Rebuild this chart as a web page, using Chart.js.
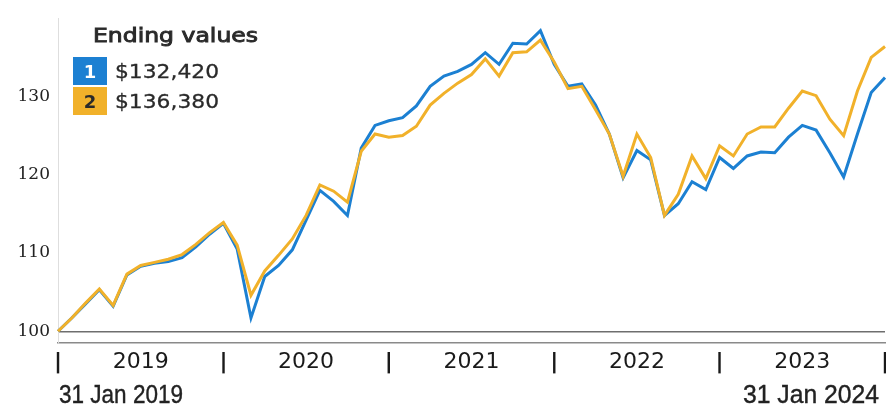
<!DOCTYPE html>
<html>
<head>
<meta charset="utf-8">
<script src="https://cdn.jsdelivr.net/npm/chart.js@4.4.1/dist/chart.umd.min.js"></script>
<style>
  html, body { margin: 0; padding: 0; background: #fff; }
  #wrap { width: 886px; height: 407px; position: relative; }
</style>
</head>
<body>
<div id="wrap"><canvas id="growthChart"></canvas></div>
<script>
// month-end points, 31 Jan 2019 .. 31 Jan 2024
const monthNames = ['Jan','Feb','Mar','Apr','May','Jun','Jul','Aug','Sep','Oct','Nov','Dec'];
const months = [];
for (let y = 2019; y <= 2024; y++) {
  for (let m = 0; m < 12; m++) {
    if (y === 2024 && m > 0) break;
    months.push(monthNames[m] + ' ' + y);
  }
}

const yearLabels = ['2019', '2020', '2021', '2022', '2023'];
const yTicks = [100, 110, 120, 130];
const endLabels = ['31 Jan 2019', '31 Jan 2024'];
const endingValues = ['$132,420', '$136,380'];

const fund1 = [100, 101.7, 103.5, 105.3, 103.2, 107.2, 108.3, 108.7, 108.9, 109.4, 110.8, 112.4,
  113.8, 110.5, 101.7, 107.0, 108.4, 110.4, 114.2, 118.0, 116.6, 114.8, 123.4, 126.3,
  126.9, 127.3, 128.8, 131.3, 132.6, 133.2, 134.1, 135.6, 134.1, 136.8, 136.7, 138.4,
  134.1, 131.3, 131.6, 128.9, 125.2, 119.6, 123.1, 121.9, 114.8, 116.3, 119.1, 118.1,
  122.2, 120.8, 122.4, 122.9, 122.8, 124.8, 126.3, 125.7, 122.8, 119.7, 125.2, 130.5, 132.42];

const fund2 = [100, 101.7, 103.6, 105.4, 103.3, 107.3, 108.4, 108.8, 109.2, 109.8, 111.1, 112.6,
  113.9, 111.0, 104.6, 107.7, 109.7, 111.8, 114.8, 118.7, 117.9, 116.5, 123.0, 125.2,
  124.8, 125.0, 126.2, 128.9, 130.4, 131.7, 132.8, 134.8, 132.6, 135.6, 135.7, 137.2,
  134.4, 131.0, 131.3, 128.3, 125.2, 119.8, 125.2, 122.2, 114.8, 117.5, 122.4, 119.5,
  123.7, 122.4, 125.2, 126.1, 126.1, 128.5, 130.7, 130.1, 127.1, 125.0, 130.7, 135.0, 136.38];

const blue = '#1c80d2';
const yellow = '#f1b12a';

// text squeezed to a given width, optional thin stroke to fake a medium weight
function fitText(ctx, text, x, y, width, align, stroke) {
  const w = ctx.measureText(text).width;
  const s = Math.min(1.4, width / w);
  ctx.save();
  ctx.translate(x, y);
  ctx.scale(s, 1);
  ctx.textAlign = align;
  ctx.fillText(text, 0, 0);
  if (stroke) {
    ctx.lineWidth = stroke;
    ctx.strokeStyle = ctx.fillStyle;
    ctx.strokeText(text, 0, 0);
  }
  ctx.restore();
}

const extras = {
  id: 'extras',
  afterDraw(chart) {
    const ctx = chart.ctx;
    const xs = chart.scales.x;
    ctx.save();
    ctx.textBaseline = 'alphabetic';

    // legend
    ctx.fillStyle = '#2a2a2a';
    ctx.font = '20px "DejaVu Sans"';
    fitText(ctx, 'Ending values', 93, 42, 165, 'left', 0.9);

    const boxes = [[blue, '#ffffff', 57], [yellow, '#2a2a2a', 87]];
    boxes.forEach(([bg, fg, top], i) => {
      ctx.fillStyle = bg;
      ctx.fillRect(73, top, 34, 28);
      ctx.fillStyle = fg;
      ctx.font = 'bold 18px "DejaVu Sans"';
      ctx.textAlign = 'center';
      ctx.fillText(String(i + 1), 90, top + 21);
      ctx.fillStyle = '#2a2a2a';
      ctx.font = '20px "DejaVu Sans"';
      fitText(ctx, endingValues[i], 115, top + 21, 104, 'left', 0.3);
    });

    // start / end dates
    ctx.fillStyle = '#222';
    ctx.font = '26px "Liberation Sans Narrow", "Liberation Sans"';
    fitText(ctx, endLabels[0], xs.getPixelForValue(0) + 1, 403, 124, 'left', 0.4);
    fitText(ctx, endLabels[1], xs.getPixelForValue(60) - 6, 403, 136, 'right', 0.4);
    ctx.restore();
  }
};

new Chart(document.getElementById('growthChart'), {
  type: 'line',
  data: {
    labels: months,
    datasets: [
      { label: '2', data: fund2, borderColor: yellow, borderWidth: 3, pointRadius: 0, tension: 0, order: 0 },
      { label: '1', data: fund1, borderColor: blue, borderWidth: 3, pointRadius: 0, tension: 0, order: 1 }
    ]
  },
  options: {
    responsive: true,
    maintainAspectRatio: false,
    animation: false,
    layout: { padding: { top: 4, right: 1, left: 0, bottom: 0 } },
    plugins: { legend: { display: false }, tooltip: { enabled: false } },
    scales: {
      x: {
        offset: false,
        grid: { display: false, drawTicks: false },
        border: { display: true, color: '#8a8a8a', width: 1.5 },
        afterFit: s => { s.height = 64; s.paddingLeft = 0; s.paddingRight = 0; },
        ticks: {
          autoSkip: false,
          maxRotation: 0,
          minRotation: 0,
          padding: 6,
          color: '#1a1a1a',
          font: c => (c.index % 12 === 0 ? { family: 'DejaVu Sans', size: 22, weight: 'bold' } : { family: 'DejaVu Sans', size: 22 }),
          callback: (v, i) => (i % 12 === 0 ? '|' : i % 12 === 6 ? yearLabels[(i - 6) / 12] : '')
        }
      },
      y: {
        min: 98.5,
        max: 140,
        afterBuildTicks: s => { s.ticks = yTicks.map(v => ({ value: v })); },
        afterFit: s => { s.width = 58; },
        grid: {
          drawTicks: false,
          color: c => (c.tick && c.tick.value === 100 ? '#6e6e6e' : 'rgba(0,0,0,0)'),
          lineWidth: 1.5
        },
        border: { display: true, color: '#dedede', width: 1 },
        ticks: {
          padding: 8,
          color: '#222',
          font: { family: 'DejaVu Serif', size: 17 }
        }
      }
    }
  },
  plugins: [extras]
});
</script>
</body>
</html>
